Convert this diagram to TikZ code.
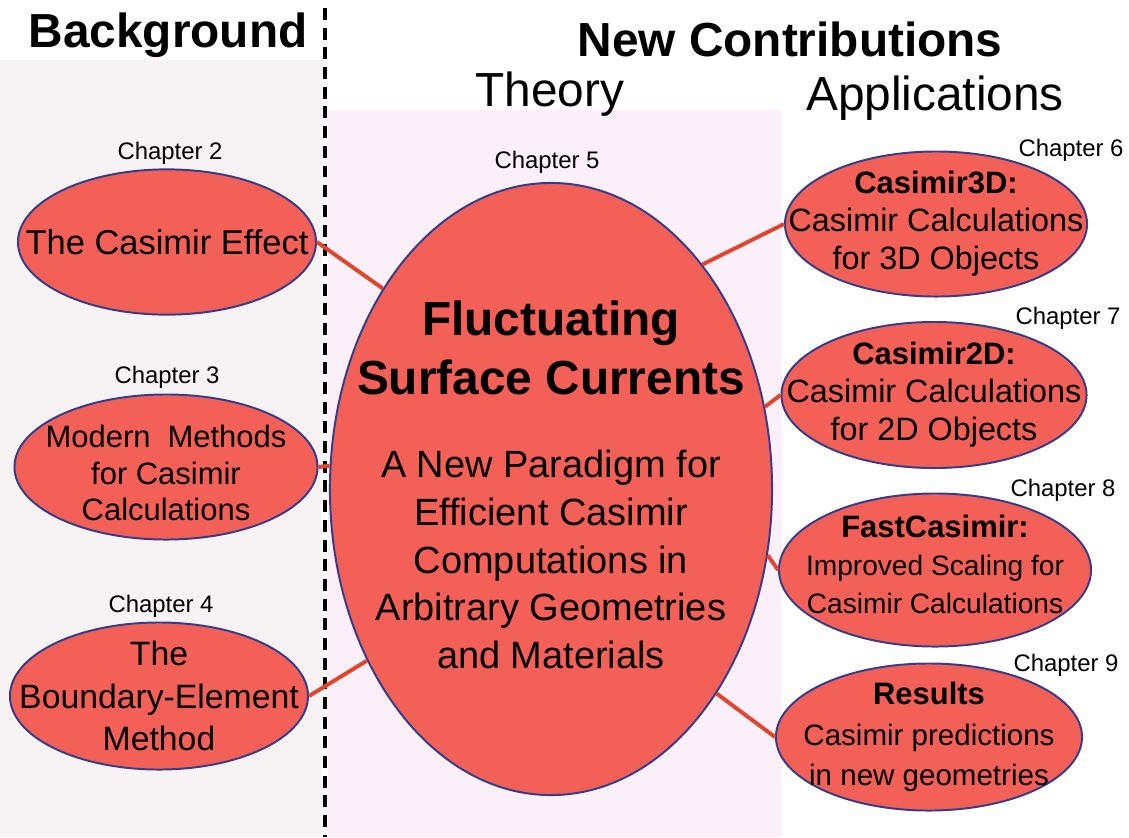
\documentclass[tikz,border=0pt]{standalone}
\usepackage{fontspec}
\setmainfont{Liberation Sans}
\usepackage{xcolor}
\usetikzlibrary{shapes.geometric}
\definecolor{ovalfill}{HTML}{F26057}
\definecolor{ovaledge}{HTML}{363C8C}
\definecolor{linkred}{HTML}{E0452E}
\definecolor{leftbg}{HTML}{F7F2F3}
\definecolor{midbg}{HTML}{FBF0FA}
\newcommand{\setfs}[2]{\fontsize{#1}{#2}\selectfont}

\begin{document}
\begin{tikzpicture}[x=0.025cm, y=-0.025cm,
  oval/.style={ellipse, draw=ovaledge, fill=ovalfill, line width=1.4pt, inner sep=0pt},
  chap/.style={font=\setfs{17}{20}},
  head/.style={font=\setfs{34}{40}\bfseries},
  subhead/.style={font=\setfs{34}{40}},
  link/.style={draw=linkred, line width=2.8pt}]
\useasboundingbox (0,0) rectangle (1129,837);
\fill[leftbg] (0,60) rectangle (322,837);
\fill[midbg] (328,110) rectangle (782,837);
% divider
\coordinate (divtop) at (325,8);
\coordinate (divbot) at (325,837);
\draw[line width=2.3pt, dash pattern=on 8.5pt off 5.5pt] (divtop) -- (divbot);
% headings
\node[head] (bg) at (168,35) {Background};
\node[head] (newc) at (790,39) {New Contributions};
\node[subhead] (theory) at (550,94) {Theory};
\node[subhead] (appl) at (935,98) {Applications};
% background chapters
\node[oval, minimum width=7.45cm, minimum height=3.63cm] (ch2) at (167,242) {};
\node[font=\setfs{24.5}{28}] (ch2txt) at (ch2) {The Casimir Effect};
\node[chap] (ch2lab) at (170,153) {Chapter 2};
\node[oval, minimum width=7.575cm, minimum height=3.625cm] (ch3) at (166,467) {};
\node[align=center, font=\setfs{22}{26}, yshift=-0.15cm] (ch3txt) at (ch3) {Modern\ \ Methods\\for Casimir\\Calculations};
\node[chap] (ch3lab) at (167,377) {Chapter 3};
\node[oval, minimum width=7.45cm, minimum height=3.675cm] (ch4) at (159,696) {};
\node[align=center, font=\setfs{24}{30}] (ch4txt) at (ch4) {The\\Boundary-Element\\Method};
\node[chap] (ch4lab) at (161,606) {Chapter 4};
% theory
\node[oval, minimum width=11.05cm, minimum height=15.3cm] (fsc) at (551,489) {};
\node[align=center, font=\setfs{27}{34}, yshift=0.1cm] (fsctxt) at (fsc) {{\setfs{34}{42}\bfseries Fluctuating}\\[8pt]{\setfs{34}{42}\bfseries Surface Currents}\\[25pt]A New Paradigm for\\Efficient Casimir\\Computations in\\Arbitrary Geometries\\and Materials};
\node[chap] (ch5lab) at (547,162) {Chapter 5};
% applications
\node[oval, minimum width=7.55cm, minimum height=3.625cm] (ch6) at (936,224) {};
\node[align=center, font=\setfs{23}{27}] (ch6txt) at (ch6) {{\setfs{22}{27}\bfseries Casimir3D:}\\Casimir Calculations\\for 3D Objects};
\node[chap] (ch6lab) at (1071,150) {Chapter 6};
\node[oval, minimum width=7.625cm, minimum height=3.65cm] (ch7) at (934,395) {};
\node[align=center, font=\setfs{23}{27}] (ch7txt) at (ch7) {{\setfs{22}{27}\bfseries Casimir2D:}\\Casimir Calculations\\for 2D Objects};
\node[chap] (ch7lab) at (1068,318) {Chapter 7};
\node[oval, minimum width=7.8cm, minimum height=3.825cm] (ch8) at (935,570) {};
\node[align=center, font=\setfs{20}{27}, yshift=0.15cm] (ch8txt) at (ch8) {{\setfs{22}{27}\bfseries FastCasimir:}\\Improved Scaling for\\Casimir Calculations};
\node[chap] (ch8lab) at (1063,490) {Chapter 8};
\node[oval, minimum width=7.65cm, minimum height=3.675cm] (ch9) at (929,737) {};
\node[align=center, font=\setfs{21}{29}] (ch9txt) at (ch9) {{\setfs{22}{29}\bfseries Results}\\Casimir predictions\\in new geometries};
\node[chap] (ch9lab) at (1066,665) {Chapter 9};
% links
\draw[link] (ch2.east) -- (fsc.130);
\draw[link] (ch3.east) -- (fsc.174);
\draw[link] (ch4.east) -- (fsc.-137);
\draw[link] (fsc.56) -- (ch6.west);
\draw[link] (fsc.21.5) -- (ch7.west);
\draw[link] (fsc.-17.6) -- (ch8.west);
\draw[link] (fsc.-51) -- (ch9.west);
\end{tikzpicture}
\end{document}
